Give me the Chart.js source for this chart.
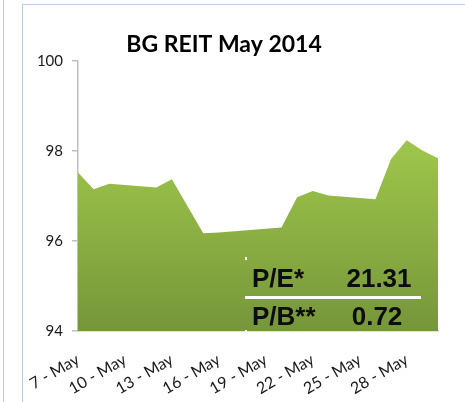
<!DOCTYPE html>
<html>
<head>
<meta charset="utf-8">
<script src="https://cdn.jsdelivr.net/npm/chart.js@4/dist/chart.umd.min.js"></script>
<style>
  html, body { margin: 0; padding: 0; background: #ffffff; }
  #wrap { position: relative; width: 465px; height: 402px; overflow: hidden; }
  .ln { position: absolute; background: #b9cde8; }
  canvas { position: absolute; left: 0; top: 0; }
</style>
</head>
<body>
<div id="wrap">
  <div class="ln" style="left:3px; top:0; width:1px; height:402px;"></div>
  <div class="ln" style="left:22px; top:4px; width:1px; height:398px;"></div>
  <div class="ln" style="left:22px; top:4px; width:443px; height:1px;"></div>
  <canvas id="c" width="465" height="402"></canvas>
</div>
<script>
// ---- data ----
const chartTitle = 'BG REIT May 2014';
const tradingDays = [7, 8, 9, 12, 13, 14, 15, 16, 19, 20, 21, 22, 23, 26, 27, 28, 29, 30];
const priceValues = [97.52, 97.15, 97.27, 97.19, 97.37, 96.77, 96.17, 96.19, 96.27, 96.30, 96.97, 97.11, 97.01, 96.93, 97.82, 98.24, 98.01, 97.84];
const xTickDays = [7, 10, 13, 16, 19, 22, 25, 28];
const xTickLabels = ['7 - May', '10 - May', '13 - May', '16 - May', '19 - May', '22 - May', '25 - May', '28 - May'];
const yTicks = [94, 96, 98, 100];
const ratioLabels = ['P/E*', 'P/B**'];
const ratioValues = ['21.31', '0.72'];

const points = tradingDays.map((d, i) => ({ x: d, y: priceValues[i] }));

const shadowPlugin = {
  id: 'areaShadow',
  beforeDatasetDraw(chart) {
    const ctx = chart.ctx;
    ctx.save();
    ctx.shadowColor = 'rgba(0,0,0,0.35)';
    ctx.shadowBlur = 3;
    ctx.shadowOffsetX = 2;
    ctx.shadowOffsetY = 2;
  },
  afterDatasetDraw(chart) {
    chart.ctx.restore();
  }
};

const overlayPlugin = {
  id: 'overlay',
  afterDraw(chart) {
    const ctx = chart.ctx;
    const a = chart.chartArea;
    ctx.save();
    // title
    ctx.fillStyle = '#000000';
    ctx.font = 'bold 23px Lato, "Open Sans", sans-serif';
    ctx.textAlign = 'center';
    ctx.textBaseline = 'alphabetic';
    ctx.fillText(chartTitle, 224, 52);

    // ratio box
    const bx = a.left + 167;
    ctx.font = 'bold 26px "Liberation Sans", Arial, sans-serif';
    ctx.textAlign = 'left';
    ctx.fillStyle = '#0d0d0d';
    ctx.fillText(ratioLabels[0], bx + 7, a.top + 226);
    ctx.fillText(ratioLabels[1], bx + 7, a.top + 264);
    ctx.textAlign = 'center';
    ctx.fillText(ratioValues[0], bx + 134, a.top + 226);
    ctx.fillText(ratioValues[1], bx + 132, a.top + 264);
    ctx.fillStyle = '#ffffff';
    ctx.fillRect(bx, a.top + 235, 176, 3);
    ctx.fillRect(bx, a.top + 196, 2, 3);
    ctx.fillRect(bx, a.top + 269, 2, 3);
    ctx.restore();
  }
};

const ctx = document.getElementById('c').getContext('2d');
new Chart(ctx, {
  type: 'line',
  data: {
    datasets: [{
      data: points,
      fill: 'start',
      borderWidth: 0,
      borderColor: 'rgba(0,0,0,0)',
      pointRadius: 0,
      tension: 0,
      backgroundColor(context) {
        const c = context.chart;
        const area = c.chartArea;
        if (!area) return '#8db543';
        const g = c.ctx.createLinearGradient(0, area.top, 0, area.bottom);
        g.addColorStop(0, '#a2c94e');
        g.addColorStop(0.35, '#9cc34a');
        g.addColorStop(1, '#76963a');
        return g;
      }
    }]
  },
  options: {
    responsive: false,
    animation: false,
    devicePixelRatio: 1,
    layout: { padding: { left: 10, top: 61, right: 27, bottom: 0 } },
    plugins: {
      legend: { display: false },
      title: { display: false },
      tooltip: { enabled: false }
    },
    scales: {
      x: {
        type: 'linear',
        min: 7,
        max: 30,
        afterBuildTicks(scale) { scale.ticks = xTickDays.map(v => ({ value: v })); },
        afterFit(scale) { scale.height = 71; },
        grid: { display: false, drawTicks: false },
        border: { display: true, color: '#bfbfbf', width: 1.5 },
        ticks: {
          autoSkip: false,
          minRotation: 30,
          maxRotation: 30,
          padding: 19,
          color: '#1a1a1a',
          font: { family: 'Lato, "Open Sans", sans-serif', size: 16 },
          callback(v, i) { return xTickLabels[i]; }
        }
      },
      y: {
        min: 94,
        max: 100,
        afterBuildTicks(scale) { scale.ticks = yTicks.map(v => ({ value: v })); },
        afterFit(scale) { scale.width = 68; },
        grid: { display: true, drawOnChartArea: false, drawTicks: true, tickLength: 6, color: '#bfbfbf', lineWidth: 1.5 },
        border: { display: true, color: '#bfbfbf', width: 1.5 },
        ticks: {
          padding: 9,
          color: '#1a1a1a',
          font: { family: 'Lato, "Open Sans", sans-serif', size: 15 }
        }
      }
    }
  },
  plugins: [shadowPlugin, overlayPlugin]
});
</script>
</body>
</html>
